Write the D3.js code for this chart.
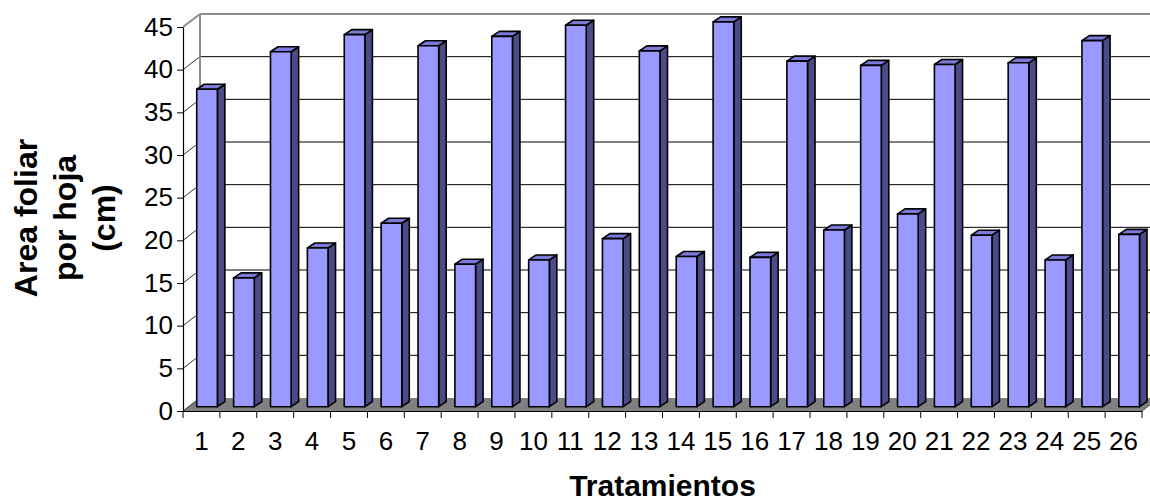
<!DOCTYPE html>
<html>
<head>
<meta charset="utf-8">
<script src="https://cdn.jsdelivr.net/npm/d3@7/dist/d3.min.js"></script>
<style>
  html, body { margin: 0; padding: 0; background: #fff; }
  svg { display: block; font-family: "Liberation Sans", Arial, sans-serif; }
</style>
</head>
<body>
<svg id="chart" width="1150" height="502"></svg>
<script>
// Leaf area per leaf for each treatment
const categories = ["1","2","3","4","5","6","7","8","9","10","11","12","13",
                    "14","15","16","17","18","19","20","21","22","23","24","25","26"];
const values = [37.2, 15.1, 41.6, 18.6, 43.6, 21.5, 42.3, 16.7, 43.4, 17.2, 44.7, 19.7, 41.7,
                17.6, 45.1, 17.5, 40.5, 20.7, 40.0, 22.6, 40.1, 20.1, 40.3, 17.2, 42.9, 20.2];
const yTicks = [0, 5, 10, 15, 20, 25, 30, 35, 40, 45];
const yTitleLines = ["Area foliar", "por hoja", "(cm)"];
const xTitle = "Tratamientos";

const svg = d3.select("#chart");

// front plane of the 3-D box
const x = d3.scaleBand().domain(categories).range([183, 1142]).padding(0);
const y = d3.scaleLinear().domain([0, 45]).range([411, 27]);

// oblique depth of the box, of the bar front face and of the bars themselves
const D = { dx: 17, dy: -13 };
const F = { dx: 5.6, dy: -4.3 };
const B = { dx: 7.5, dy: -5 };
const barW = x.bandwidth() * 0.56;

const xL = x.range()[0], xR = x.range()[1];
const yMax = y(45), y0 = y(0);

// floor
svg.append("polygon")
  .attr("points", [[xL, y0], [xR, y0], [xR + D.dx, y0 + D.dy], [xL + D.dx, y0 + D.dy]].join(" "))
  .attr("fill", "#808080");

// gridlines on the back wall and the side wall
const grid = svg.append("g");
yTicks.filter(v => v > 0 && v < 45).forEach(v => {
  grid.append("line")
    .attr("x1", xL + D.dx).attr("x2", xR + D.dx)
    .attr("y1", y(v) + D.dy).attr("y2", y(v) + D.dy)
    .attr("stroke", "#000").attr("stroke-width", 1);
});
yTicks.filter(v => v < 45).forEach(v => {
  grid.append("line")
    .attr("x1", xL).attr("y1", y(v))
    .attr("x2", xL + D.dx).attr("y2", y(v) + D.dy)
    .attr("stroke", "#000").attr("stroke-width", 0.8);
});

// wall borders
const wall = svg.append("g").attr("stroke", "#8c8c8c").attr("stroke-width", 2).attr("fill", "none");
wall.append("line").attr("x1", xL + D.dx).attr("x2", xR + D.dx + 20)
  .attr("y1", yMax + D.dy).attr("y2", yMax + D.dy);
wall.append("line").attr("x1", xL + D.dx).attr("x2", xL + D.dx)
  .attr("y1", yMax + D.dy).attr("y2", y0 + D.dy);
wall.append("line").attr("x1", xL).attr("y1", yMax)
  .attr("x2", xL + D.dx).attr("y2", yMax + D.dy);
svg.append("line").attr("x1", xR).attr("y1", y0)
  .attr("x2", xR + D.dx).attr("y2", y0 + D.dy)
  .attr("stroke", "#555").attr("stroke-width", 1);

// bars
const bars = svg.append("g")
  .attr("stroke", "#000").attr("stroke-width", 1.6).attr("stroke-linejoin", "round");
categories.forEach((c, i) => {
  const v = values[i];
  const l = x(c) + (x.bandwidth() - barW) / 2 + F.dx;
  const r = l + barW;
  const t = y(v) + F.dy;
  const b = y(0) + F.dy;
  const g = bars.append("g");
  g.append("polygon")
    .attr("points", [[r, t], [r + B.dx, t + B.dy], [r + B.dx, b + B.dy], [r, b]].join(" "))
    .attr("fill", "#4b4b88");
  g.append("polygon")
    .attr("points", [[l, t], [r, t], [r + B.dx, t + B.dy], [l + B.dx, t + B.dy]].join(" "))
    .attr("fill", "#7a7ad8");
  g.append("rect")
    .attr("x", l).attr("y", t).attr("width", barW).attr("height", b - t)
    .attr("fill", "#9999ff");
});

// value axis
const yAxis = svg.append("g")
  .attr("transform", `translate(${xL},0)`)
  .call(d3.axisLeft(y).tickValues(yTicks).tickSize(6).tickSizeOuter(0).tickPadding(4));
yAxis.select(".domain").attr("stroke", "#000").attr("stroke-width", 1.2);
yAxis.selectAll(".tick line").attr("stroke", "#000");
yAxis.selectAll(".tick text")
  .attr("font-size", 26).attr("fill", "#000").attr("font-family", "Liberation Sans, Arial, sans-serif");

// category axis: labels at band centres, ticks at band edges
const xAxis = svg.append("g")
  .attr("transform", `translate(0,${y0})`)
  .call(d3.axisBottom(x).tickSize(0).tickSizeOuter(0).tickPadding(21));
xAxis.select(".domain").attr("stroke", "#000").attr("stroke-width", 1.2);
xAxis.selectAll(".tick text")
  .attr("font-size", 26).attr("fill", "#000").attr("font-family", "Liberation Sans, Arial, sans-serif");
const edges = categories.map(c => x(c)).concat([xR]);
svg.append("g").selectAll("line").data(edges).join("line")
  .attr("x1", d => d).attr("x2", d => d)
  .attr("y1", y0).attr("y2", y0 + 7)
  .attr("stroke", "#000").attr("stroke-width", 1);

// axis titles
svg.append("text")
  .attr("x", (xL + xR) / 2).attr("y", 496)
  .attr("text-anchor", "middle")
  .attr("font-size", 30).attr("font-weight", "bold")
  .text(xTitle);

const titleBaselines = [37, 76, 115];
yTitleLines.forEach((line, i) => {
  svg.append("text")
    .attr("transform", `translate(${titleBaselines[i]},218) rotate(-90)`)
    .attr("text-anchor", "middle")
    .attr("font-size", 32).attr("font-weight", "bold")
    .text(line);
});
</script>
</body>
</html>
